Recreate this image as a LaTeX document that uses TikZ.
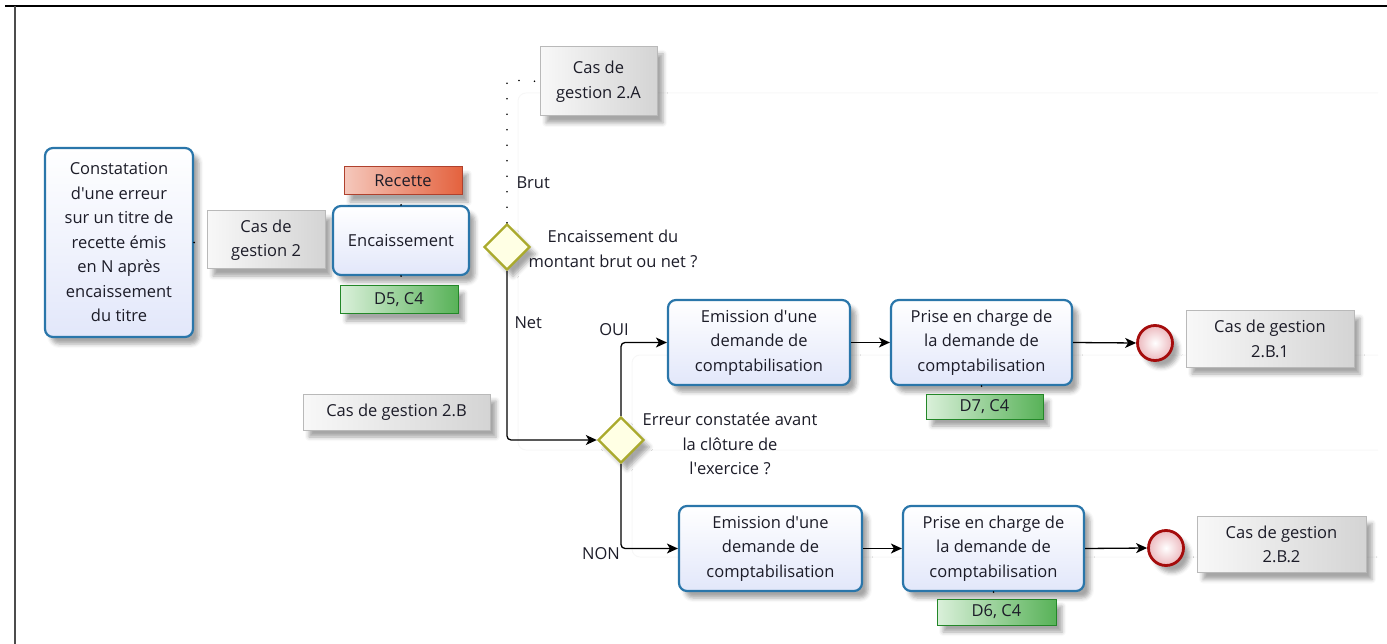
\documentclass[tikz,border=0pt]{standalone}
\usepackage{fontspec}
\setmainfont{Open Sans}
\usetikzlibrary{arrows.meta,shapes.geometric,shadows.blur}

\definecolor{taskline}{RGB}{42,118,170}
\definecolor{taskfill}{RGB}{226,231,250}
\definecolor{gateline}{RGB}{170,170,45}
\definecolor{gatefill}{RGB}{255,255,228}
\definecolor{endline}{RGB}{165,12,12}
\definecolor{endfill}{RGB}{236,185,190}
\definecolor{noteline}{RGB}{185,185,185}
\definecolor{notelight}{RGB}{248,248,248}
\definecolor{notedark}{RGB}{212,212,212}
\definecolor{redline}{RGB}{175,65,45}
\definecolor{redlight}{RGB}{245,200,188}
\definecolor{reddark}{RGB}{228,98,62}
\definecolor{greenline}{RGB}{35,135,40}
\definecolor{greenlight}{RGB}{218,240,218}
\definecolor{greendark}{RGB}{88,178,88}
\definecolor{textcol}{RGB}{28,28,40}
\definecolor{groupline}{RGB}{247,247,247}

\newcommand{\apos}{\textquotesingle}

\tikzset{
  softshadow/.style={blur shadow={shadow xshift=6pt, shadow yshift=-7pt,
      shadow blur radius=4pt, shadow opacity=35}},
  task/.style={rectangle, rounded corners=8pt, draw=taskline, line width=2.2pt,
      top color=white, bottom color=taskfill, align=center, inner sep=2pt,
      softshadow},
  note/.style={rectangle, draw=noteline, line width=1pt,
      left color=notelight, right color=notedark, align=center, inner sep=2pt,
      softshadow},
  dataobj/.style={rectangle, line width=1pt, align=center, inner sep=0pt,
      minimum width=118pt, minimum height=28pt, softshadow},
  recobj/.style={dataobj, draw=redline, left color=redlight, right color=reddark},
  gdobj/.style={dataobj, draw=greenline, left color=greenlight, right color=greendark},
  gateway/.style={diamond, aspect=1, draw=gateline, line width=2.4pt,
      fill=gatefill, minimum width=46pt, minimum height=46pt, inner sep=0pt,
      softshadow},
  endevent/.style={circle, draw=endline, line width=2.8pt,
      inner color=white, outer color=endfill, minimum size=35pt, inner sep=0pt,
      softshadow},
  flow/.style={line width=1.3pt, rounded corners=4pt,
      -{Stealth[length=11pt, width=10pt, inset=3pt]}},
  assoc/.style={line width=1.8pt, line cap=round, dash pattern=on 0pt off 15.5pt},
  group/.style={draw=groupline, line width=1pt, rounded corners=8pt},
}

\begin{document}
\begin{tikzpicture}[x=1pt, y=-1pt, text=textcol,
    font=\fontsize{16.5}{24.5}\selectfont]
\useasboundingbox (0,0) rectangle (1387,644);

% page frame
\draw[line width=2pt] (5,6) -- (1387,6);
\draw[line width=2pt, black!70] (15,6) -- (15,644);

% faint sub-process outlines, open to the right
\draw[group] (1378,93) -- (518,93) -- (518,450) -- (1378,450);
\draw[group] (1378,355) -- (632,355) -- (632,557) -- (1378,557);

% start of the case
\node[task, minimum width=148pt, minimum height=189pt] (constat) at (119,242.5)
  {Constatation\\d\apos une erreur\\sur un titre de\\recette émis\\en N après\\encaissement\\du titre};
\node[note, minimum width=118pt, minimum height=58pt] (cas2) at (266,240)
  {Cas de\\gestion 2};

\node[task, minimum width=136pt, minimum height=69pt] (encais) at (401,240.5) {Encaissement};
\node[recobj] (recette) at (403,181) {Recette};
\node[gdobj] (d5) at (399,300) {D5, C4};

% first gateway
\node[gateway] (g1) at (507,247) {};
\node[align=center] (q1) at (613,249) {Encaissement du\\montant brut ou net ?};
\node[note, minimum width=117pt, minimum height=69pt] (cas2a) at (598.5,81.5)
  {Cas de\\gestion 2.A};
\node[anchor=west] (brut) at (513,183) {Brut};
\node[anchor=west] (net) at (511,323) {Net};
\node[note, minimum width=187pt, minimum height=36pt] (cas2b) at (396.5,412)
  {Cas de gestion 2.B};

% second gateway
\node[gateway] (g2) at (621,440) {};
\node[align=center] (q2) at (730,444) {Erreur constatée avant\\la clôture de\\l\apos exercice ?};
\node (oui) at (614,330) {OUI};
\node (non) at (601,554) {NON};

% branch OUI
\node[task, minimum width=182pt, minimum height=85pt] (em1) at (759,342.5)
  {Emission d\apos une\\demande de\\comptabilisation};
\node[task, minimum width=181pt, minimum height=85pt] (pr1) at (981.5,342.5)
  {Prise en charge de\\la demande de\\comptabilisation};
\node[gdobj, minimum width=117pt, minimum height=25pt] (d7) at (984.5,406.5) {D7, C4};
\node[endevent] (end1) at (1155,343) {};
\node[note, minimum width=168pt, minimum height=56pt] (cas2b1) at (1270,339)
  {Cas de gestion\\2.B.1};

% branch NON
\node[task, minimum width=183pt, minimum height=85pt] (em2) at (770.5,548.5)
  {Emission d\apos une\\demande de\\comptabilisation};
\node[task, minimum width=181pt, minimum height=85pt] (pr2) at (993.5,548.5)
  {Prise en charge de\\la demande de\\comptabilisation};
\node[gdobj, minimum width=119pt, minimum height=26pt] (d6) at (996.5,612) {D6, C4};
\node[endevent] (end2) at (1166,548) {};
\node[note, minimum width=169pt, minimum height=56pt] (cas2b2) at (1281.5,544.5)
  {Cas de gestion\\2.B.2};

% associations
\draw[assoc] (constat.east) -- (cas2.west);
\draw[assoc] (encais.north) -- (encais.north |- recette.south);
\draw[assoc] (encais.south) -- (encais.south |- d5.north);
\draw[assoc] (g1.north) -- ++(0,-143) -- (cas2a.west);
\draw[assoc] (pr1.south) -- (pr1.south |- d7.north);
\draw[assoc] (pr2.south) -- (pr2.south |- d6.north);

% sequence flows
\draw[flow] (g1.south) |- (g2.west);
\draw[flow] (g2.north) |- (em1.west);
\draw[flow] (g2.south) |- (em2.west);
\draw[flow] (em1.east) -- (pr1.west);
\draw[flow] (pr1.east) -- (end1.west);
\draw[flow] (em2.east) -- (pr2.west);
\draw[flow] (pr2.east) -- (end2.west);
\end{tikzpicture}
\end{document}
